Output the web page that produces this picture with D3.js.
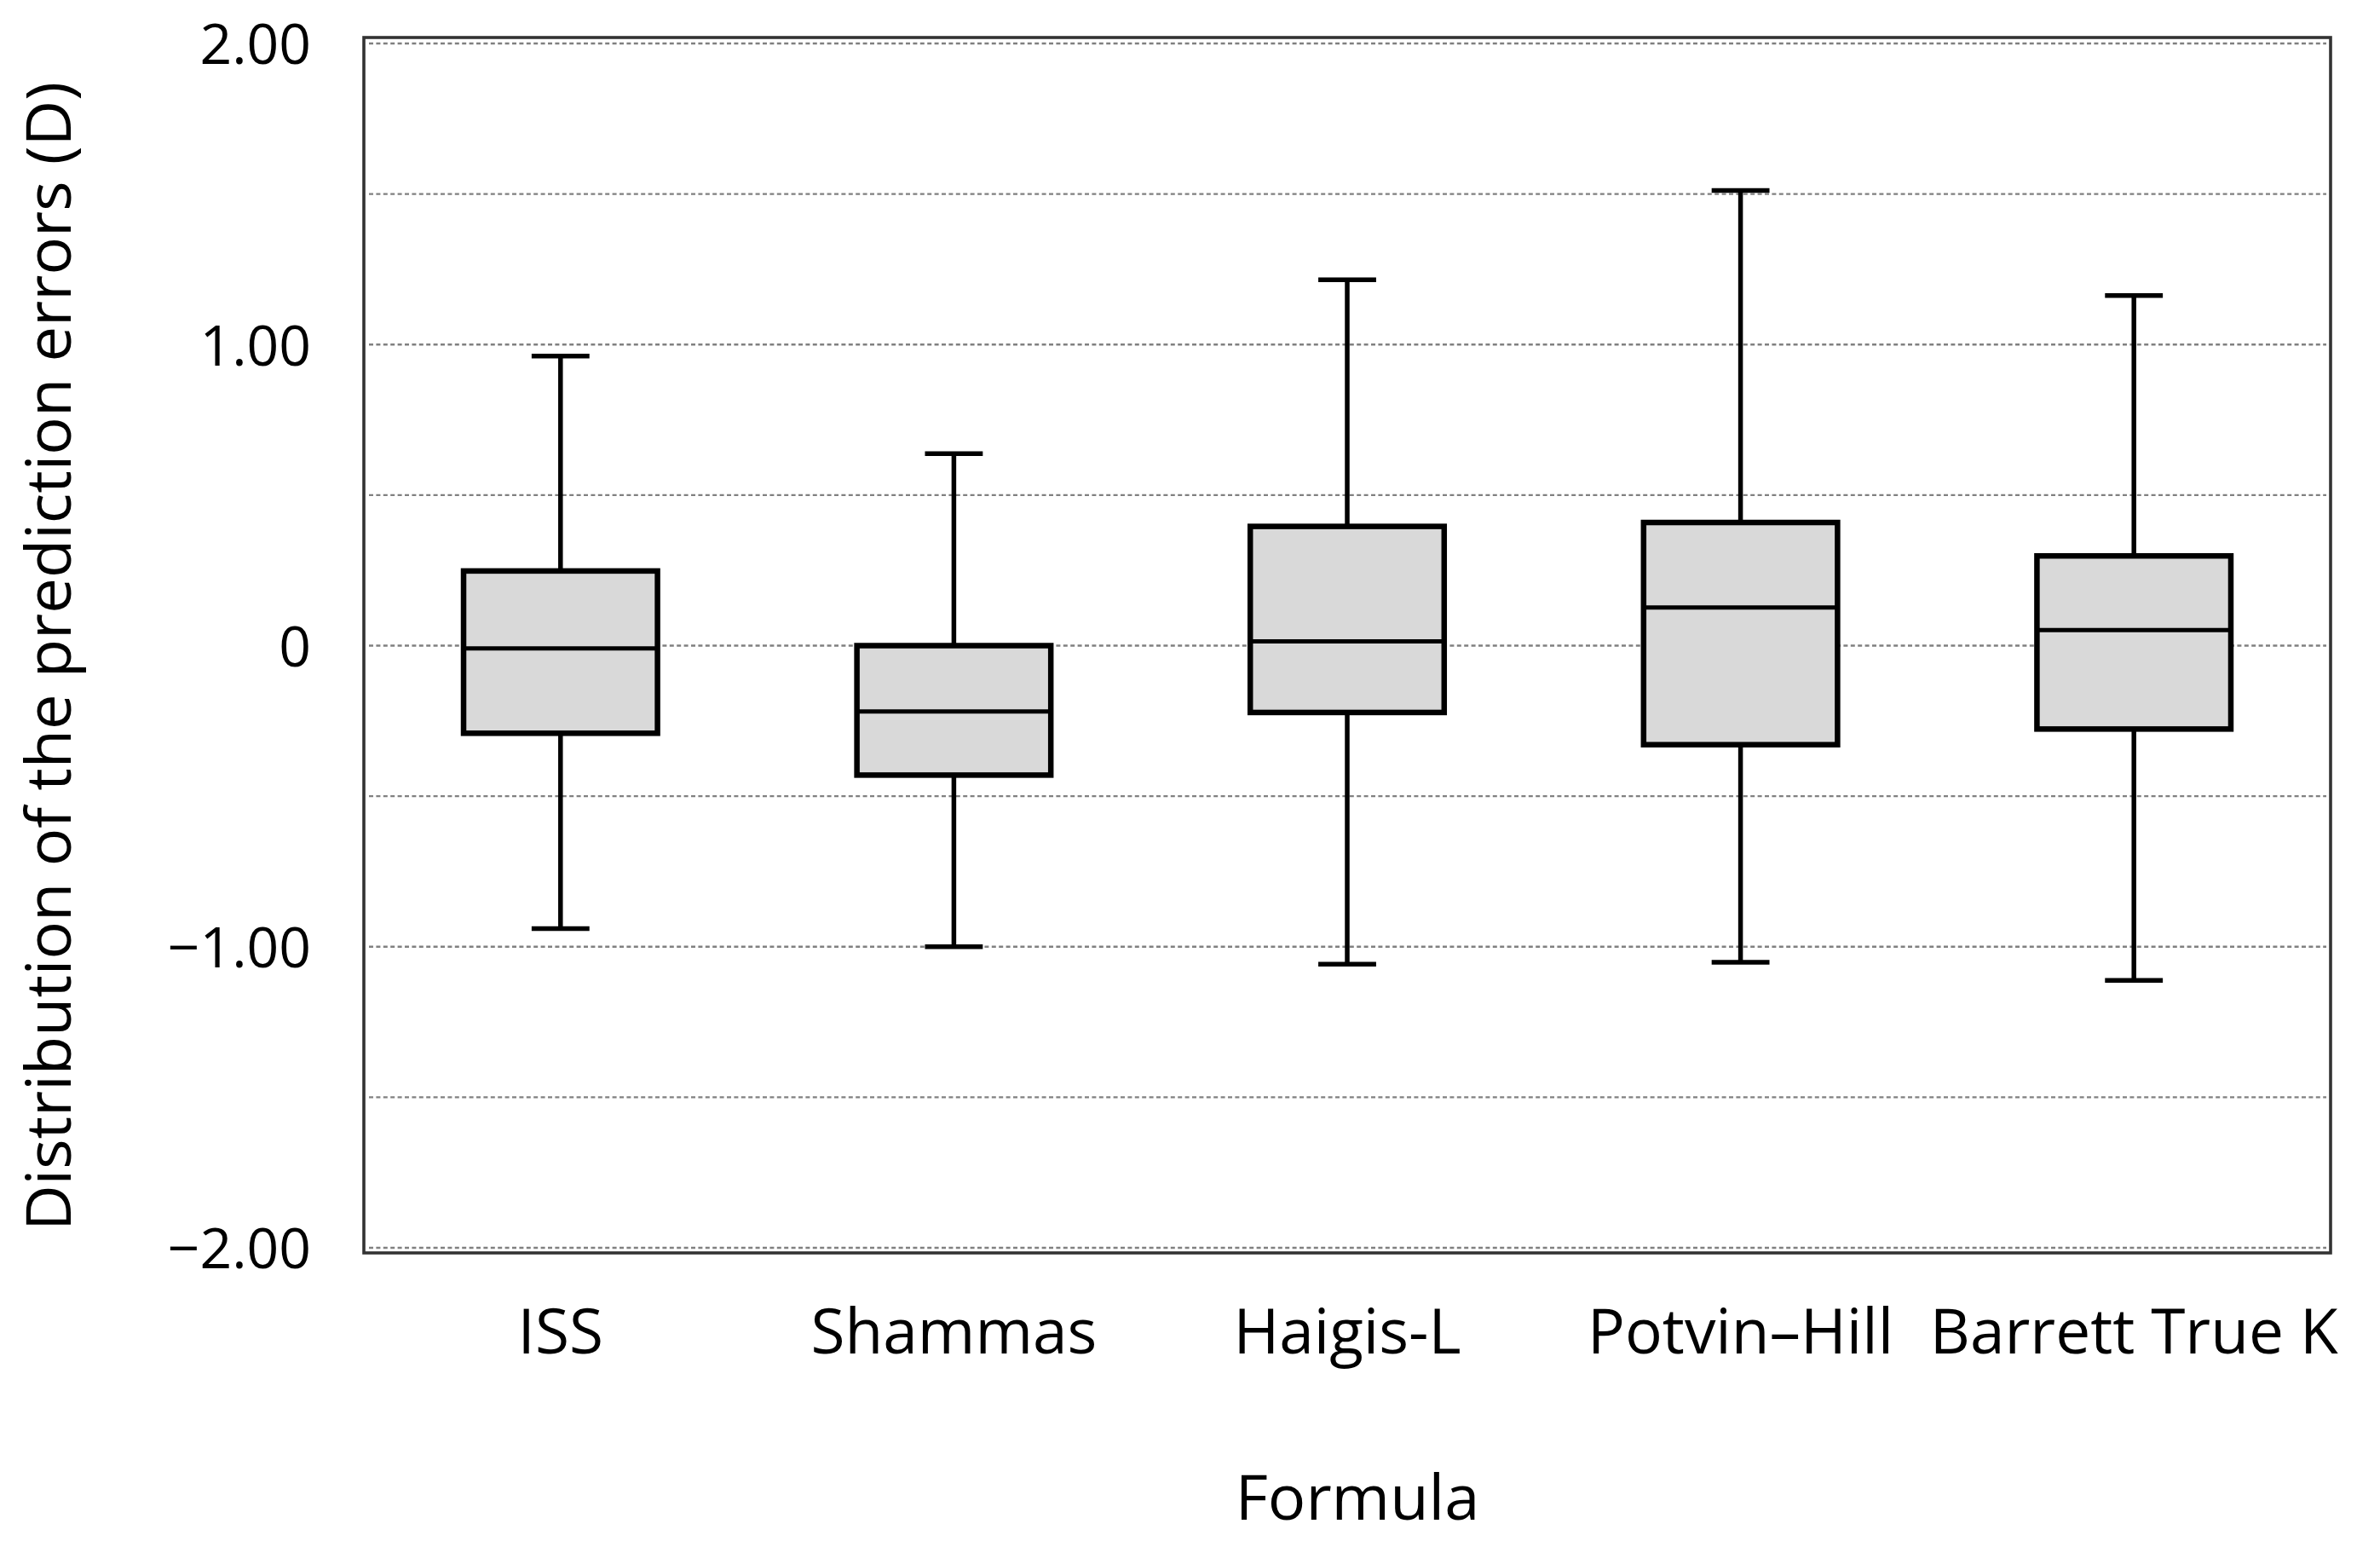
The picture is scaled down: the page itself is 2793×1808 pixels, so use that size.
<!DOCTYPE html>
<html>
<head>
<meta charset="utf-8">
<script src="https://cdn.jsdelivr.net/npm/d3@7"></script>
<style>
  html, body { margin: 0; padding: 0; background: #fff; }
  svg { display: block; font-family: "Open Sans", "Noto Sans", sans-serif; }
</style>
</head>
<body>
<svg id="chart" width="2793" height="1808"></svg>
<script>
// ---- data ----
const categories = ["ISS", "Shammas", "Haigis-L", "Potvin\u2013Hill", "Barrett True K"];
const whiskerHigh = [0.962, 0.638, 1.215, 1.512, 1.163];
const q3Values    = [0.248, 0.000, 0.396, 0.409, 0.298];
const medians     = [-0.009, -0.219, 0.014, 0.127, 0.052];
const q1Values    = [-0.291, -0.430, -0.222, -0.329, -0.277];
const whiskerLow  = [-0.940, -1.000, -1.058, -1.052, -1.112];

const yTickValues = [-2, -1, 0, 1, 2];
const yTickLabels = ["\u22122.00", "\u22121.00", "0", "1.00", "2.00"];
const gridValues  = [-2, -1.5, -1, -0.5, 0, 0.5, 1, 1.5, 2];

const yTitle = "Distribution of the prediction errors (D)";
const xTitle = "Formula";

// ---- layout ----
const svg = d3.select("#chart");
const frame = { left: 427, right: 2735, top: 44, bottom: 1470 };

const x = d3.scaleBand().domain(categories).range([frame.left, frame.right]).padding(0);
const y = d3.scaleLinear().domain([-2, 2]).range([1464, 51]);

const boxes = categories.map((c, i) => ({
  cat: c, hi: whiskerHigh[i], q3: q3Values[i], med: medians[i], q1: q1Values[i], lo: whiskerLow[i]
}));

// frame background
svg.append("rect")
  .attr("x", frame.left).attr("y", frame.top)
  .attr("width", frame.right - frame.left).attr("height", frame.bottom - frame.top)
  .attr("fill", "#fff");

// gridlines
svg.append("g").selectAll("line").data(gridValues).join("line")
  .attr("x1", frame.left + 6).attr("x2", frame.right - 5)
  .attr("y1", d => y(d)).attr("y2", d => y(d))
  .attr("stroke", "#808080").attr("stroke-width", 2.4)
  .attr("stroke-dasharray", "5,3.4");

// frame border
svg.append("rect")
  .attr("x", frame.left).attr("y", frame.top)
  .attr("width", frame.right - frame.left).attr("height", frame.bottom - frame.top)
  .attr("fill", "none").attr("stroke", "#333").attr("stroke-width", 3.6);

// boxes
const bw = x.bandwidth() * 0.493;
const cw = x.bandwidth() * 0.147;
const g = svg.append("g").selectAll("g").data(boxes).join("g")
  .attr("transform", d => `translate(${x(d.cat) + x.bandwidth() / 2},0)`);

g.append("line")
  .attr("x1", 0).attr("x2", 0)
  .attr("y1", d => y(d.hi)).attr("y2", d => y(d.lo))
  .attr("stroke", "#000").attr("stroke-width", 5.5);

g.append("line").attr("class", "cap")
  .attr("x1", -cw / 2).attr("x2", cw / 2)
  .attr("y1", d => y(d.hi)).attr("y2", d => y(d.hi))
  .attr("stroke", "#000").attr("stroke-width", 5.5);
g.append("line").attr("class", "cap")
  .attr("x1", -cw / 2).attr("x2", cw / 2)
  .attr("y1", d => y(d.lo)).attr("y2", d => y(d.lo))
  .attr("stroke", "#000").attr("stroke-width", 5.5);

g.append("rect")
  .attr("x", -bw / 2).attr("width", bw)
  .attr("y", d => y(d.q3)).attr("height", d => y(d.q1) - y(d.q3))
  .attr("fill", "#d9d9d9").attr("stroke", "#000").attr("stroke-width", 6.5);

g.append("line")
  .attr("x1", -bw / 2).attr("x2", bw / 2)
  .attr("y1", d => y(d.med)).attr("y2", d => y(d.med))
  .attr("stroke", "#000").attr("stroke-width", 5);

// y axis
const yAxis = svg.append("g")
  .attr("transform", `translate(${frame.left},0)`)
  .call(d3.axisLeft(y).tickValues(yTickValues)
    .tickFormat(d => yTickLabels[yTickValues.indexOf(d)])
    .tickSize(0).tickPadding(62));
yAxis.select(".domain").remove();
yAxis.selectAll("text")
  .attr("font-family", "Open Sans").attr("font-size", 66).attr("fill", "#000")
  .attr("dy", "0.36em");

// x axis
const xAxis = svg.append("g")
  .attr("transform", `translate(0,${frame.bottom})`)
  .call(d3.axisBottom(x).tickSize(0).tickPadding(66));
xAxis.select(".domain").remove();
xAxis.selectAll("text")
  .attr("font-family", "Open Sans").attr("font-size", 73).attr("fill", "#000");

// axis titles
svg.append("text")
  .attr("transform", `translate(83,770) rotate(-90)`)
  .attr("text-anchor", "middle")
  .attr("font-size", 74).attr("fill", "#000")
  .text(yTitle);

svg.append("text")
  .attr("x", (frame.left + frame.right) / 2 + 12).attr("y", 1783)
  .attr("text-anchor", "middle")
  .attr("font-size", 74).attr("fill", "#000")
  .text(xTitle);
</script>
</body>
</html>
